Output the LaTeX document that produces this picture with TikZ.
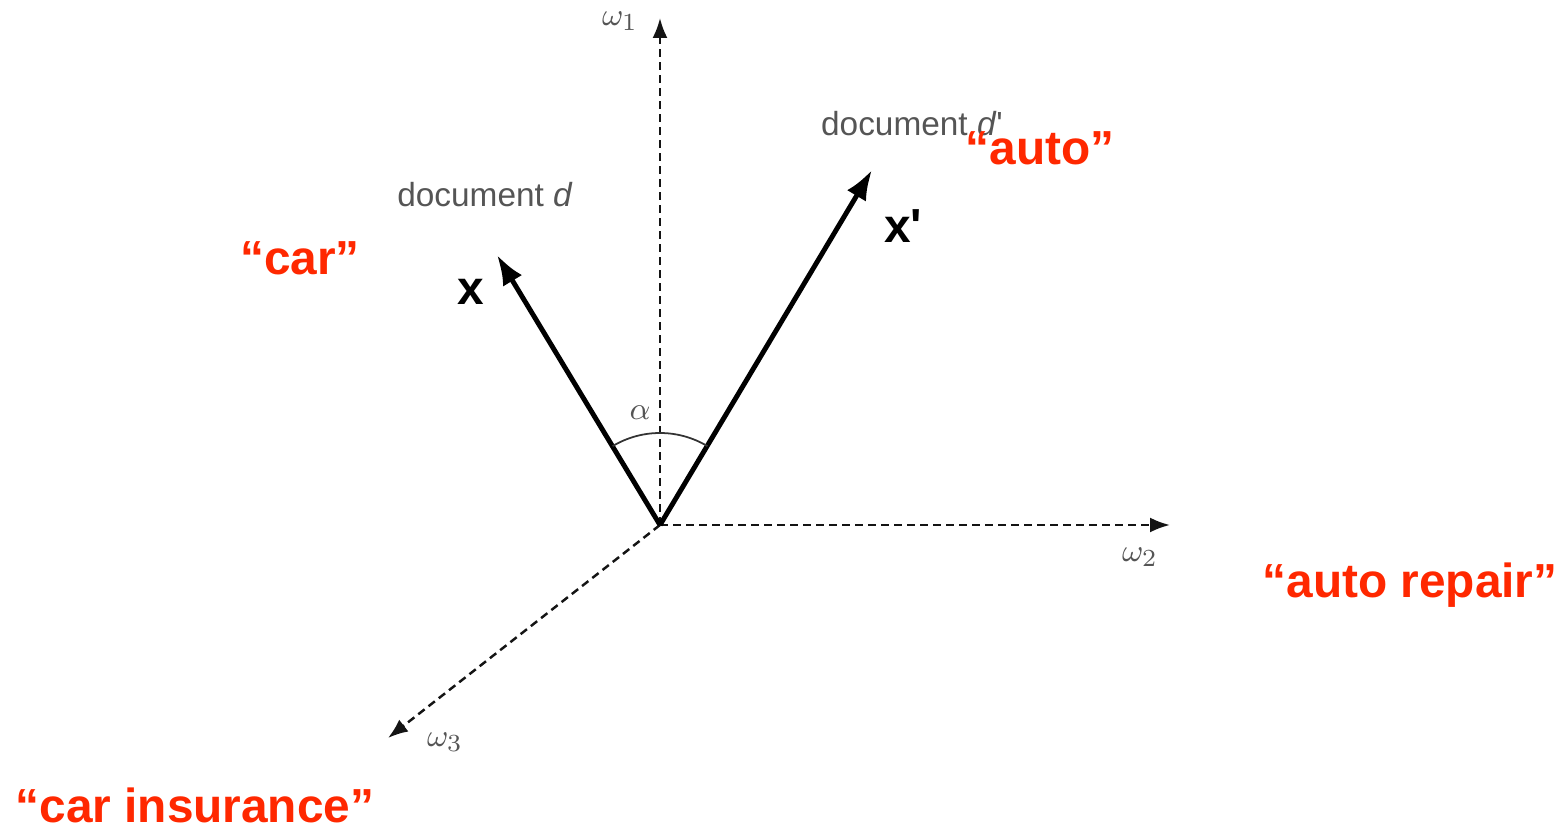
\documentclass[tikz,border=0pt]{standalone}
\usepackage{fontspec}
\setmainfont{Liberation Sans}
\usepackage{tikz}
\usetikzlibrary{arrows.meta, positioning, calc}
\definecolor{TermRed}   {RGB}{255,  40,   0}
\definecolor{LabelGray} {RGB}{ 85,  85,  85}
\definecolor{AxisDark}  {RGB}{ 20,  20,  20}
\tikzset{
  % Dashed term axis
  axisline/.style={
    AxisDark, line width=0.7pt, dash pattern=on 0.08cm off 0.05cm,
    -{Latex[length=2mm, width=1.5mm]}
  },
  % Document vector
  docvec/.style={
    black, line width=1.4pt,
    -{Latex[length=3mm, width=2.2mm]}
  },
  % Red query term label
  termlabel/.style={
    font=\fontsize{13.6}{15}\selectfont\bfseries, text=TermRed,
    inner sep=0pt
  },
  % Grey caption from the original figure
  doclabel/.style={
    font=\fontsize{9.5}{11}\selectfont, text=LabelGray, inner sep=0pt
  },
  % Axis name
  axislabel/.style={
    font=\fontsize{9.5}{11}\selectfont, text=LabelGray, inner sep=0pt
  },
  % Bold vector name
  veclabel/.style={
    font=\fontsize{13.6}{15}\selectfont\bfseries, inner sep=0pt
  }
}

\begin{document}
\begin{tikzpicture}

  \useasboundingbox (0,0) rectangle (15.63,8.28);

  % ── Axes ──────────────────────────────────────────────────────────────────
  \coordinate (orig) at (6.60,3.03);
  \coordinate (w1end) at (6.60,8.10);
  \coordinate (w2end) at (11.70,3.03);
  \coordinate (w3end) at (3.88,0.90);

  \draw[axisline] (orig) -- (w1end);
  \draw[axisline] (orig) -- (w2end);
  \draw[axisline] (orig) -- (w3end);

  \node[axislabel] (w1) at (6.20,8.07) {$\omega_1$};
  \node[axislabel] (w2) at (11.40,2.71) {$\omega_2$};
  \node[axislabel] (w3) at (4.45,0.86) {$\omega_3$};

  % ── Document vectors ──────────────────────────────────────────────────────
  \coordinate (xend) at (4.97,5.73);
  \coordinate (xpend) at (8.72,6.58);

  \draw[docvec] (orig) -- (xend);
  \draw[docvec] (orig) -- (xpend);

  \node[veclabel] (xlab) at (4.71,5.36) {x};
  \node[veclabel] (xplab) at (9.03,6.02) {x\textquotesingle};

  \node[doclabel] (docd) at (4.85,6.33) {document \textit{d}};
  \node[doclabel] (docdp) at (9.12,7.04) {document \textit{d}\textquotesingle};

  % ── Angle between the vectors ─────────────────────────────────────────────
  \draw[LabelGray!60!black, line width=0.5pt]
        ($(orig)+(121:0.92)$) arc[start angle=121, end angle=59, radius=0.92];
  \node[axislabel] (alpha) at (6.40,4.15) {$\alpha$};

  % ── Query terms ───────────────────────────────────────────────────────────
  \node[termlabel] (car) at (3.00,5.70) {“car”};
  \node[termlabel] (auto) at (10.40,6.80) {“auto”};
  \node[termlabel] (autorep) at (14.10,2.43) {“auto repair”};
  \node[termlabel] (carins) at (1.95,0.23) {“car insurance”};

\end{tikzpicture}
\end{document}
